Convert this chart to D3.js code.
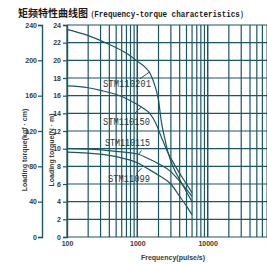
<!DOCTYPE html>
<html>
<head>
<meta charset="utf-8">
<script src="https://cdn.jsdelivr.net/npm/d3@7"></script>
<style>
  html, body { margin: 0; padding: 0; background: #fff; overflow: hidden; }
  svg { display: block; }
</style>
</head>
<body>
<div id="chart"></div>
<script>
// torque curves (frequency in pulse/s, torque in N·m)
var models = ['STM110201', 'STM110150', 'STM110115', 'STM11099'];
var freq201 = [100, 200, 400, 700, 1000, 1300, 1500, 1800, 2000, 2200, 2450, 2750, 3200, 4000, 5000, 6000];
var torque201 = [23.5, 22.8, 21.8, 20.8, 19.9, 19.2, 18.6, 17.0, 15.5, 13.0, 11.2, 9.5, 8.0, 6.5, 5.1, 4.0];
var freq150 = [100, 200, 300, 600, 900, 1200, 1500, 1800, 2200, 2700, 3200, 4000, 5000, 6000];
var torque150 = [17.1, 16.9, 16.6, 15.9, 15.2, 14.6, 14.0, 13.0, 11.3, 9.6, 8.5, 7.2, 6.0, 5.0];
var freq115 = [100, 200, 500, 1000, 1500, 2000, 3000, 4000, 5000, 6000];
var torque115 = [10.0, 9.95, 9.7, 9.4, 8.8, 8.3, 7.4, 6.3, 5.4, 4.6];
var freq99 = [100, 200, 500, 1000, 1500, 2000, 3000, 4000, 5000, 6000];
var torque99 = [9.6, 9.5, 9.1, 8.4, 7.6, 7.0, 6.0, 4.6, 3.5, 2.5];

var nmTicks = d3.range(0, 25, 2);
var kgfTicks = [0, 40, 80, 120, 160, 200, 240];
var freqTicks = [100, 1000, 10000, 100000];

var lineColor = '#1d5660';
var textColor = '#333b40';

var width = 267, height = 264;
var plot = {left: 67, top: 25, bottom: 237, right: 278};

var svg = d3.select('#chart').append('svg')
    .attr('width', width)
    .attr('height', height);

var x = d3.scaleLog()
    .domain([100, 100000])
    .range([plot.left, plot.right]);
var y = d3.scaleLinear()
    .domain([0, 24])
    .range([plot.bottom, plot.top]);
var yKgf = d3.scaleLinear()
    .domain([0, 240])
    .range([plot.bottom, plot.top]);

// title
svg.append('text')
    .attr('x', 18)
    .attr('y', 17)
    .style('font-weight', 'bold')
    .style('font-family', '"Noto Sans CJK SC", sans-serif')
    .style('font-size', '10px')
    .attr('fill', '#1a1a1a')
    .text('矩频特性曲线图');
svg.append('text')
    .attr('transform', 'translate(87,17) scale(1,1.2)')
    .style('font-weight', 'bold')
    .style('font-family', '"Liberation Mono", monospace')
    .style('font-size', '7.6px')
    .attr('fill', '#1a1a1a')
    .text('（Frequency-torque characteristics）');

// grid
var vLines = [];
[100, 1000, 10000].forEach(function(dec) {
    for (var k = 1; k <= 10; k++) vLines.push(dec * k);
});
svg.append('g')
    .selectAll('line')
    .data(vLines)
    .enter().append('line')
    .attr('x1', function(d) { return x(d); })
    .attr('x2', function(d) { return x(d); })
    .attr('y1', plot.top)
    .attr('y2', plot.bottom)
    .attr('stroke', lineColor)
    .attr('stroke-width', 1.2);

svg.append('g')
    .selectAll('line')
    .data(nmTicks)
    .enter().append('line')
    .attr('x1', plot.left)
    .attr('x2', width)
    .attr('y1', function(d) { return y(d); })
    .attr('y2', function(d) { return y(d); })
    .attr('stroke', lineColor)
    .attr('stroke-width', 1.2);

// inner N·m axis
var yAxis = svg.append('g')
    .attr('transform', 'translate(' + plot.left + ',0)')
    .call(d3.axisLeft(y).tickValues(nmTicks).tickSize(4).tickPadding(2));
// outer kgf·cm axis
var kAxis = svg.append('g')
    .attr('transform', 'translate(42,0)')
    .call(d3.axisLeft(yKgf).tickValues(kgfTicks).tickSize(4).tickPadding(1));
// x axis labels
var xAxis = svg.append('g')
    .attr('transform', 'translate(0,' + plot.bottom + ')')
    .call(d3.axisBottom(x).tickValues(freqTicks).tickFormat(d3.format('d')).tickSize(0).tickPadding(4));

[yAxis, kAxis, xAxis].forEach(function(g) {
    g.selectAll('path.domain').attr('stroke', lineColor).attr('stroke-width', 1.4);
    g.selectAll('.tick line').attr('stroke', lineColor).attr('stroke-width', 1.2);
    g.selectAll('text')
        .style('font-family', 'Arial, "Liberation Sans", sans-serif')
        .style('font-size', '7px')
        .style('font-weight', 'bold')
        .attr('fill', textColor);
});
xAxis.select('path.domain').remove();

// axis titles
svg.append('text')
    .attr('transform', 'translate(27,150) rotate(-90)')
    .attr('text-anchor', 'middle')
    .style('font-family', 'Arial, "Liberation Sans", sans-serif')
    .style('font-size', '7px')
    .style('font-weight', 'bold')
    .attr('fill', textColor)
    .text('Loading torque(kgf · cm)');
svg.append('text')
    .attr('transform', 'translate(54,150) rotate(-90)')
    .attr('text-anchor', 'middle')
    .style('font-family', 'Arial, "Liberation Sans", sans-serif')
    .style('font-size', '7px')
    .style('font-weight', 'bold')
    .attr('fill', textColor)
    .text('Loading torque(N · m)');
svg.append('text')
    .attr('x', 173)
    .attr('y', 260)
    .attr('text-anchor', 'middle')
    .style('font-family', 'Arial, "Liberation Sans", sans-serif')
    .style('font-size', '7px')
    .style('font-weight', 'bold')
    .attr('fill', textColor)
    .text('Frequency(pulse/s)');

// curves
var series = [
    {name: models[0], f: freq201, t: torque201},
    {name: models[1], f: freq150, t: torque150},
    {name: models[2], f: freq115, t: torque115},
    {name: models[3], f: freq99, t: torque99}
];
var line = d3.line()
    .x(function(d) { return x(d[0]); })
    .y(function(d) { return y(d[1]); })
    .curve(d3.curveMonotoneX);

svg.append('g')
    .selectAll('path')
    .data(series)
    .enter().append('path')
    .attr('d', function(s) { return line(d3.zip(s.f, s.t)); })
    .attr('fill', 'none')
    .attr('stroke', lineColor)
    .attr('stroke-width', 1.2);

// curve labels, leader lines given in freq / torque units
var labelPos = [
    {x: 103, y: 87, w: 48, from: [1085, 17.9], to: [1500, 18.7]},
    {x: 103, y: 125, w: 47, from: [920, 14.0], to: [1150, 14.75]},
    {x: 105, y: 146, w: 45, from: [1150, 9.8], to: [1050, 9.4]},
    {x: 108, y: 182, w: 42, from: [975, 7.2], to: [1150, 7.8]}
];
var labels = svg.append('g');
series.forEach(function(s, i) {
    var p = labelPos[i];
    labels.append('line')
        .attr('x1', x(p.from[0])).attr('y1', y(p.from[1]))
        .attr('x2', x(p.to[0])).attr('y2', y(p.to[1]))
        .attr('stroke', lineColor)
        .attr('stroke-width', 1);
    labels.append('text')
        .attr('x', p.x)
        .attr('y', p.y)
        .attr('textLength', p.w)
        .attr('lengthAdjust', 'spacingAndGlyphs')
        .style('font-family', '"Liberation Mono", monospace')
        .style('font-size', '10px')
        .attr('fill', '#1f3a40')
        .text(s.name);
});
</script>
</body>
</html>
